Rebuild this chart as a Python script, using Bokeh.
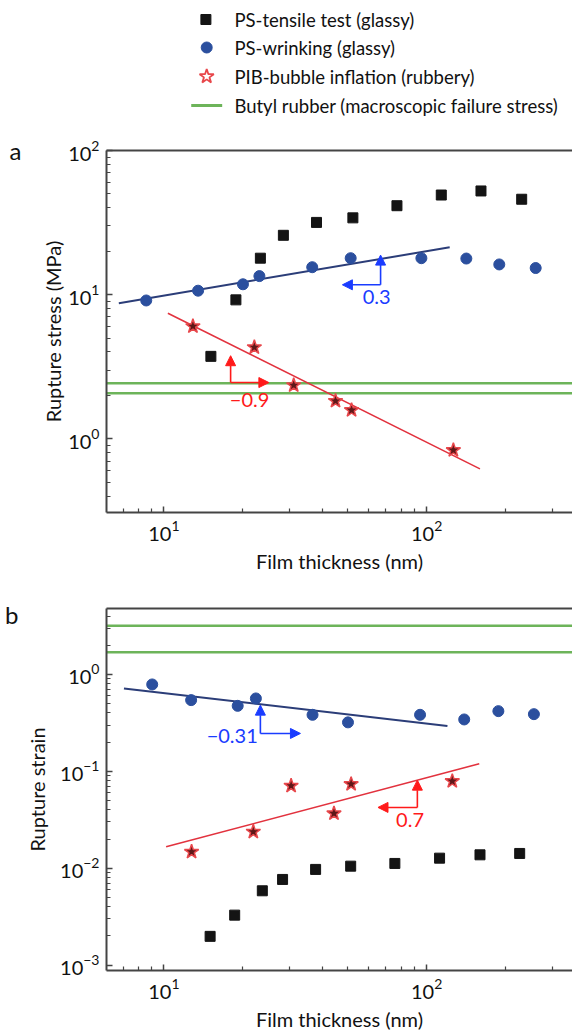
from bokeh.plotting import figure
from bokeh.layouts import column
from bokeh.models import FixedTicker, LogAxis, Arrow, NormalHead, Label
from bokeh.embed import file_html
from bokeh.resources import INLINE
from bokeh.core.properties import value

# ---------------- data ----------------
# panel a: rupture stress (MPa) vs film thickness (nm)
tensile_x_a = [15.1, 18.8, 23.3, 28.5, 38.1, 52.4, 77.1, 113.7, 161, 230]
tensile_y_a = [3.73, 9.2, 17.9, 25.8, 31.7, 34.1, 41.4, 49.1, 52.4, 45.9]
wrinkle_x_a = [8.57, 13.5, 20.0, 23.1, 36.7, 51.4, 95.5, 141.6, 189, 260]
wrinkle_y_a = [9.11, 10.65, 11.8, 13.45, 15.5, 17.9, 17.9, 17.8, 16.2, 15.3]
bubble_x_a = [12.9, 22.1, 31.2, 45.0, 51.8, 126.4]
bubble_y_a = [6.03, 4.31, 2.35, 1.83, 1.58, 0.834]
butyl_stress = [2.43, 2.07]
fit_wrinkle_a_x = [6.74, 122.4]
fit_wrinkle_a_y = [8.73, 21.3]
fit_bubble_a_x = [10.36, 159.6]
fit_bubble_a_y = [7.43, 0.618]

# panel b: rupture strain vs film thickness (nm)
tensile_x_b = [15.0, 18.6, 23.7, 28.3, 37.8, 51.4, 75.7, 112, 159.6, 226]
tensile_y_b = [0.00198, 0.00328, 0.00585, 0.00766, 0.00972, 0.0105, 0.0112, 0.0127, 0.01375, 0.0142]
wrinkle_x_b = [9.03, 12.7, 19.1, 22.4, 36.8, 50.2, 94.4, 139, 187.5, 256]
wrinkle_y_b = [0.788, 0.543, 0.474, 0.565, 0.383, 0.320, 0.383, 0.343, 0.418, 0.389]
bubble_x_b = [12.75, 21.9, 30.5, 44.4, 51.6, 125.2]
bubble_y_b = [0.01476, 0.02375, 0.0709, 0.0368, 0.0738, 0.0792]
butyl_strain = [3.17, 1.69]
fit_wrinkle_b_x = [7.05, 120]
fit_wrinkle_b_y = [0.717, 0.293]
fit_bubble_b_x = [10.2, 158.6]
fit_bubble_b_y = [0.01663, 0.1195]

# slope annotations: (corner x, corner y, vertical tip y, horizontal tip x, text x, text y, text)
slope_a_blue = (66.8, 11.7, 18.8, 47.8, 64.5, 9.56, "0.3")
slope_a_red = (17.95, 2.455, 3.77, 25.1, 21.2, 1.86, "\u22120.9")
slope_b_blue = (23.3, 0.246, 0.482, 33.1, 18.2, 0.231, "\u22120.31")
slope_b_red = (92.2, 0.0424, 0.0811, 65.3, 86.5, 0.0313, "0.7")

legend_labels = ["PS-tensile test (glassy)", "PS-wrinking (glassy)",
                 "PIB-bubble inflation (rubbery)", "Butyl rubber (macroscopic failure stress)"]

x_major = [10, 100]
x_minor = [6, 7, 8, 9, 20, 30, 40, 50, 60, 70, 80, 90, 200, 300]
ya_major = [1, 10, 100]
ya_minor = [0.4, 0.5, 0.6, 0.7, 0.8, 0.9, 2, 3, 4, 5, 6, 7, 8, 9, 20, 30, 40, 50, 60, 70, 80, 90]
yb_major = [0.001, 0.01, 0.1, 1]
yb_minor = ([k * 0.001 for k in range(2, 10)] + [k * 0.01 for k in range(2, 10)] +
            [k * 0.1 for k in range(2, 10)] + [2, 3, 4])

# ---------------- style ----------------
FONT = "Lato"
C_SQ = "#141414"
C_CI = "#2b4f9e"
C_ST_FILL = "#5e1818"
C_ST_LINE = "#e8474b"
C_GREEN = "#6db45a"
C_BLUE_FIT = "#2b3d78"
C_RED_FIT = "#e2323e"
C_BLUE_ANN = "#1a3cff"
C_RED_ANN = "#ff1a1a"
AX = "#444444"

# ---------------- legend ----------------
leg = figure(width=572, height=118, x_range=(0, 572), y_range=(118, 0),
             output_backend="svg", toolbar_location=None, min_border=0)
leg.axis.visible = False
leg.grid.visible = False
leg.outline_line_color = None
leg.scatter([122], [19], marker="square", size=10, color=C_SQ)
leg.scatter([123], [47], marker="circle", size=11, color=C_CI)
leg.scatter([123], [76], marker="star", size=15, fill_color="white",
            line_color=C_ST_LINE, line_width=1.8)
leg.line([104, 142], [105, 105], line_width=3, color=C_GREEN)
leg.text(x=[157] * 4, y=[19, 47, 76, 105], text=legend_labels,
         text_font=value(FONT), text_font_size="18.5px", text_baseline="middle",
         text_color="#111111")


def make_panel(height, top, bottom, y_range, y_major, y_minor, ylabel, ylabel_standoff,
               letter, letter_y, letter_standoff):
    p = figure(width=572, height=height, x_axis_type="log", y_axis_type="log",
               x_range=(6.05, 359), y_range=y_range, output_backend="svg",
               toolbar_location=None, min_border_left=106, min_border_right=0,
               min_border_top=top, min_border_bottom=bottom)
    p.grid.visible = False
    p.outline_line_color = None
    p.xaxis.ticker = FixedTicker(ticks=x_major, minor_ticks=x_minor)
    p.yaxis.ticker = FixedTicker(ticks=y_major, minor_ticks=y_minor)
    p.xaxis.axis_label = "Film thickness (nm)"
    p.yaxis.axis_label = ylabel
    for ax in (p.xaxis[0], p.yaxis[0]):
        ax.axis_line_color = AX
        ax.axis_line_width = 2
        ax.major_tick_line_color = AX
        ax.minor_tick_line_color = AX
        ax.major_tick_line_width = 1.5
        ax.minor_tick_line_width = 1.2
        ax.major_tick_in = 6
        ax.major_tick_out = 0
        ax.minor_tick_in = 4
        ax.minor_tick_out = 0
        ax.major_label_text_font = FONT
        ax.major_label_text_font_size = "20px"
        ax.major_label_text_color = "#111111"
        ax.axis_label_text_font = FONT
        ax.axis_label_text_font_size = "20px"
        ax.axis_label_text_font_style = "normal"
        ax.axis_label_text_color = "#111111"
    p.xaxis.major_label_standoff = 8
    p.xaxis.axis_label_standoff = 5
    p.yaxis.major_label_standoff = 7
    p.yaxis.axis_label_standoff = ylabel_standoff
    top_axis = LogAxis(ticker=FixedTicker(ticks=[]), axis_line_color=AX, axis_line_width=2,
                       major_tick_line_color=None, minor_tick_line_color=None,
                       major_label_text_color=None)
    p.add_layout(top_axis, "above")
    # panel letter, drawn as the only tick label of an otherwise invisible outer axis
    letter_axis = LogAxis(ticker=FixedTicker(ticks=[letter_y]),
                          major_label_overrides={letter_y: letter},
                          axis_line_color=None, major_tick_line_color=None,
                          minor_tick_line_color=None, major_tick_out=0, major_tick_in=0,
                          major_label_standoff=letter_standoff,
                          major_label_text_font=FONT, major_label_text_font_size="24px",
                          major_label_text_color="#111111")
    p.add_layout(letter_axis, "left")
    return p


def slope_annotation(p, ann, color):
    cx, cy, vy, hx, tx, ty, txt = ann
    p.add_layout(Arrow(end=NormalHead(size=10, fill_color=color, line_color=color),
                       x_start=cx, y_start=cy, x_end=cx, y_end=vy,
                       line_color=color, line_width=1.6))
    p.add_layout(Arrow(end=NormalHead(size=10, fill_color=color, line_color=color),
                       x_start=cx, y_start=cy, x_end=hx, y_end=cy,
                       line_color=color, line_width=1.6))
    p.add_layout(Label(x=tx, y=ty, text=txt, text_font=FONT, text_font_size="20px",
                       text_align="center", text_baseline="middle", text_color=color))


def draw_series(p, tx, ty, wx, wy, bx, by, butyl, fw, fb):
    for v in butyl:
        p.line([5, 400], [v, v], line_color=C_GREEN, line_width=2.5)
    p.line(fw[0], fw[1], line_color=C_BLUE_FIT, line_width=2)
    p.line(fb[0], fb[1], line_color=C_RED_FIT, line_width=1.6)
    p.scatter(tx, ty, marker="square", size=10, color=C_SQ)
    p.scatter(wx, wy, marker="circle", size=11, color=C_CI)
    p.scatter(bx, by, marker="star", size=15, fill_color=C_ST_FILL,
              line_color=C_ST_LINE, line_width=1.5)


pa = make_panel(462, 32, 68, (0.308, 100), ya_major, ya_minor, "Rupture stress (MPa)", 0,
                "a", 100, 17)
draw_series(pa, tensile_x_a, tensile_y_a, wrinkle_x_a, wrinkle_y_a, bubble_x_a, bubble_y_a,
            butyl_stress, (fit_wrinkle_a_x, fit_wrinkle_a_y), (fit_bubble_a_x, fit_bubble_a_y))
slope_annotation(pa, slope_a_blue, C_BLUE_ANN)
slope_annotation(pa, slope_a_red, C_RED_ANN)

pb = make_panel(454, 28, 64, (0.00088, 4.79), yb_major, yb_minor, "Rupture strain", 8,
                "b", 4.2, 4)
draw_series(pb, tensile_x_b, tensile_y_b, wrinkle_x_b, wrinkle_y_b, bubble_x_b, bubble_y_b,
            butyl_strain, (fit_wrinkle_b_x, fit_wrinkle_b_y), (fit_bubble_b_x, fit_bubble_b_y))
slope_annotation(pb, slope_b_blue, C_BLUE_ANN)
slope_annotation(pb, slope_b_red, C_RED_ANN)

layout = column(leg, pa, pb, spacing=0)
open("out.html", "w").write(file_html(layout, INLINE))
